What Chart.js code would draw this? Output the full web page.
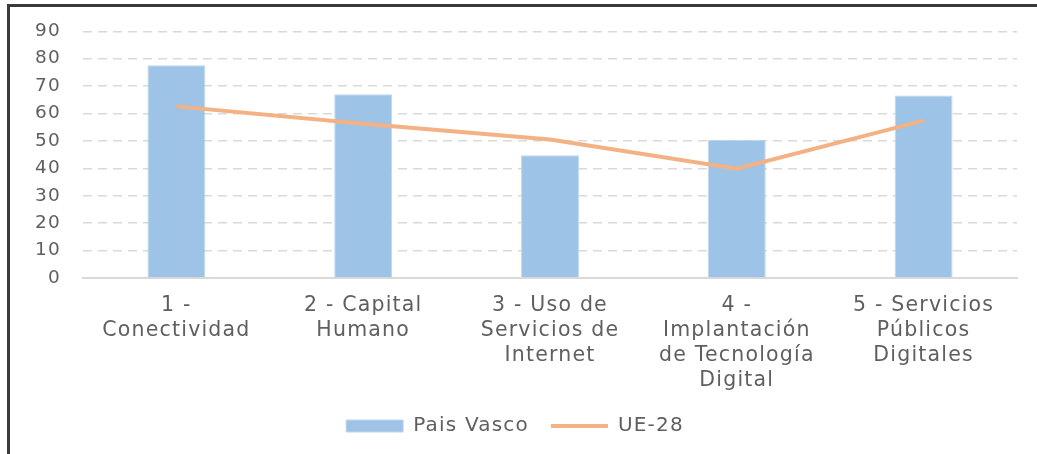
<!DOCTYPE html>
<html>
<head>
<meta charset="utf-8">
<script src="https://cdn.jsdelivr.net/npm/chart.js@4/dist/chart.umd.min.js"></script>
<style>
  html, body { margin: 0; padding: 0; background: #fff; }
  #frame {
    position: absolute; left: 7px; top: 4px; width: 1030px; height: 450px;
    border-top: 3px solid #3a3a3a; border-left: 3px solid #3a3a3a;
    box-sizing: border-box;
  }
  #wrap { position: absolute; left: 3px; top: 3px; right: 0; bottom: 0; }
</style>
</head>
<body>
<div id="frame"><div id="wrap"><canvas id="chart"></canvas></div></div>
<script>
// categories (DESI dimensions)
var labels = [
    ['1 -', 'Conectividad'],
    ['2 - Capital', 'Humano'],
    ['3 - Uso de', 'Servicios de', 'Internet'],
    ['4 -', 'Implantación', 'de Tecnología', 'Digital'],
    ['5 - Servicios', 'Públicos', 'Digitales']
];
var paisVasco = [77.6, 67, 44.8, 50.4, 66.6];
var ue28 = [62.6, 56.3, 50.5, 39.9, 57.4];

var textColor = '#5f5f5f';
var fontFamily = '"DejaVu Sans", sans-serif';

// wider text, closer to the original typeface
var spacing = {
    id: 'spacing',
    beforeLayout: function (chart) { chart.ctx.letterSpacing = '1.2px'; },
    beforeDraw: function (chart) { chart.ctx.letterSpacing = '1.2px'; }
};

var ctx = document.getElementById('chart').getContext('2d');
var chart = new Chart(ctx, {
    data: {
        labels: labels,
        datasets: [{
            type: 'line',
            label: 'UE-28',
            data: ue28,
            borderColor: '#f4b183',
            backgroundColor: '#f4b183',
            borderWidth: 4,
            pointRadius: 0,
            pointStyle: 'line',
            tension: 0,
            order: 0
        }, {
            type: 'bar',
            label: 'Pais Vasco',
            data: paisVasco,
            backgroundColor: '#9dc3e6',
            borderColor: '#bdd7ee',
            borderWidth: 1,
            pointStyle: 'rect',
            categoryPercentage: 1,
            barPercentage: 0.31,
            order: 1
        }]
    },
    plugins: [spacing],
    options: {
        responsive: true,
        maintainAspectRatio: false,
        animation: false,
        layout: { padding: { top: 5, right: 20, left: 0, bottom: 8 } },
        scales: {
            x: {
                grid: { display: false },
                border: { display: true, color: '#d9d9d9', width: 2 },
                ticks: {
                    color: textColor,
                    font: { family: fontFamily, size: 20.5, lineHeight: 1.22 },
                    maxRotation: 0,
                    autoSkip: false,
                    padding: 7
                },
                afterFit: function (scale) { scale.height = 116; }
            },
            y: {
                min: 0,
                max: 90,
                ticks: {
                    stepSize: 10,
                    autoSkip: false,
                    color: textColor,
                    font: { family: fontFamily, size: 18.5, lineHeight: 1 },
                    padding: 12
                },
                grid: {
                    color: '#d9d9d9',
                    lineWidth: 1.5,
                    drawTicks: true,
                    tickLength: 10,
                    tickColor: 'rgba(0,0,0,0)'
                },
                border: { display: false, dash: [9, 6] },
                afterFit: function (scale) { scale.width = 70; }
            }
        },
        plugins: {
            legend: {
                position: 'bottom',
                reverse: true,
                labels: {
                    usePointStyle: true,
                    pointStyleWidth: 57,
                    boxHeight: 12,
                    color: textColor,
                    font: { family: fontFamily, size: 20 },
                    padding: 22
                }
            },
            tooltip: { enabled: false }
        }
    }
});
</script>
</body>
</html>
